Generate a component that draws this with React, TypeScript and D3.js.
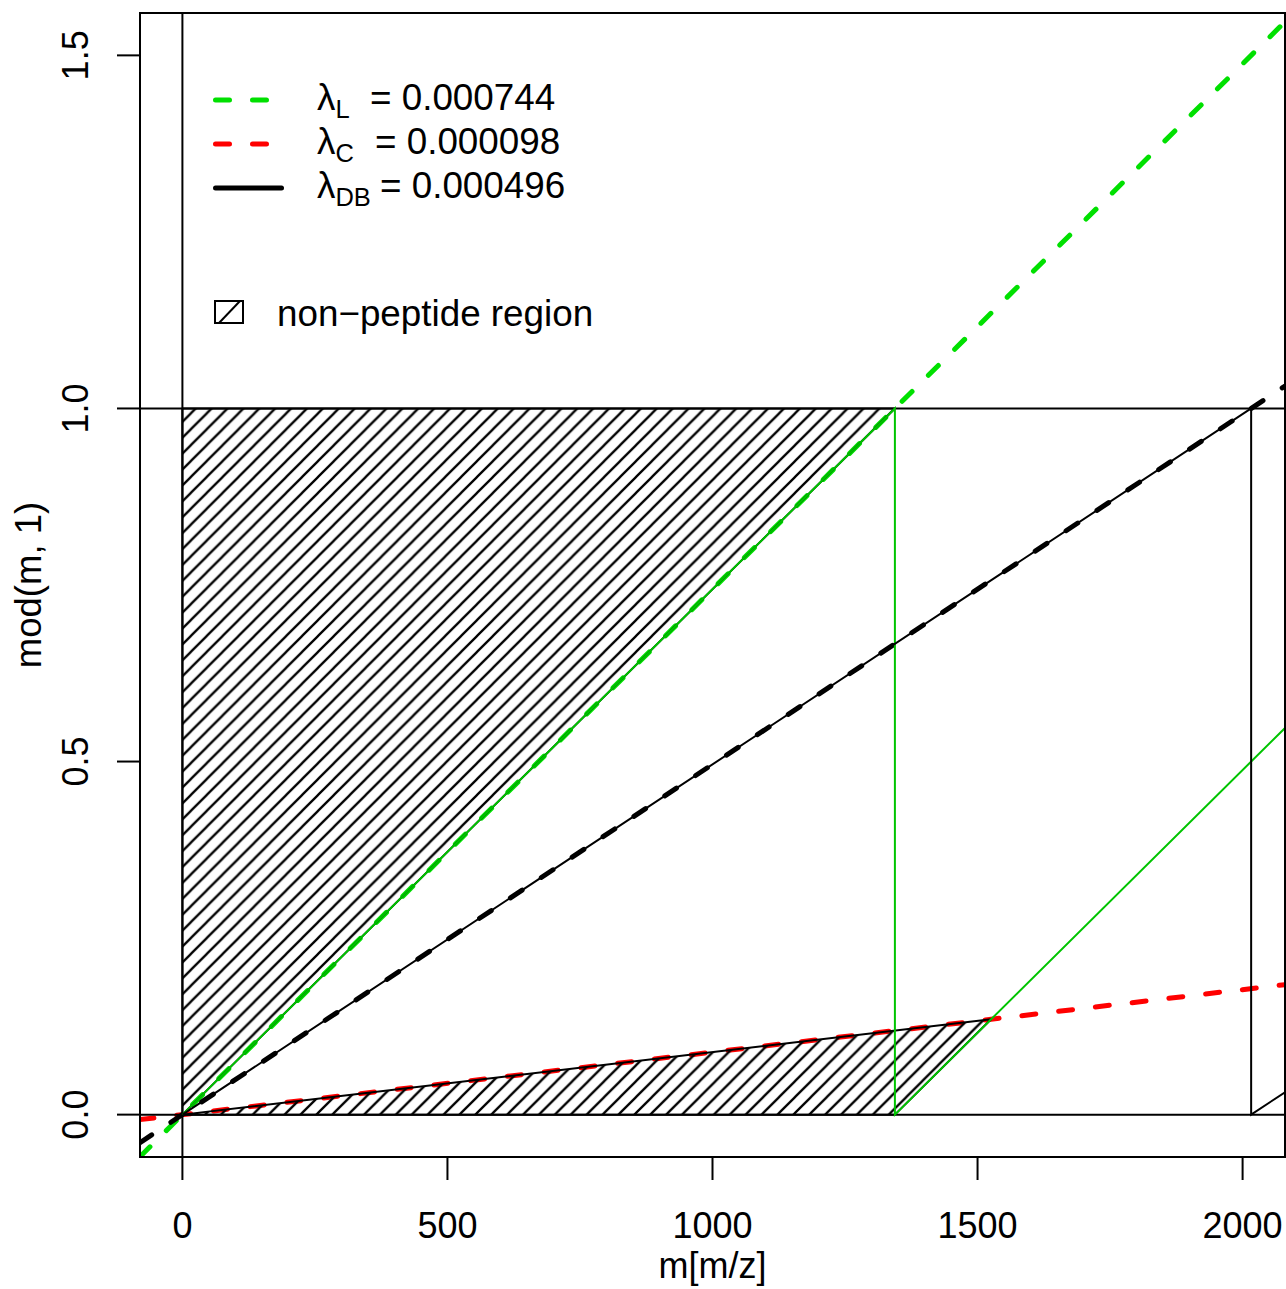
import React, { useEffect, useRef } from 'react';
import * as d3 from 'd3';

// axes
const xDomain = [-80, 2080];
const yDomain = [-0.06, 1.56];
const xTicks = [0, 500, 1000, 1500, 2000];
const yTicks = [0, 0.5, 1.0, 1.5];
const yTickLabels = ['0.0', '0.5', '1.0', '1.5'];

// the three lambda lines (slopes as they are drawn in the plot)
const seriesNames = ['L', 'C', 'DB'];
const seriesLabels = ['= 0.000744', '= 0.000098', '= 0.000496'];
const seriesSlopes = [0.000744, 0.0000885, 0.000496];
const seriesColors = ['#00e000', '#ff0000', '#000000'];
const legendDashed = [true, true, false];

// thin solid mod(m,1) lines: green (L) and black (DB)
const wrappedIdx = [0, 2];
const wrappedColors = ['#00c400', '#000000'];

const W = 1286;
const H = 1289;
const FONT = '"Liberation Sans", Arial, Helvetica, sans-serif';

const App = () => {
  const svgRef = useRef(null);

  useEffect(() => {
    document.body.style.margin = '0';
    const margin = { top: 13, right: 1, bottom: 132, left: 140 };

    const svg = d3.select(svgRef.current)
      .attr('width', W)
      .attr('height', H)
      .style('display', 'block')
      .style('font-family', FONT);
    svg.selectAll('*').remove();

    const x = d3.scaleLinear().domain(xDomain).range([margin.left, W - margin.right]);
    const y = d3.scaleLinear().domain(yDomain).range([H - margin.bottom, margin.top]);
    const [x0, x1] = x.range();
    const [yb, yt] = y.range();

    const defs = svg.append('defs');
    defs.append('clipPath').attr('id', 'plotClip')
      .append('rect')
      .attr('x', x0).attr('y', yt)
      .attr('width', x1 - x0).attr('height', yb - yt);

    // hatch pattern, 45 degree lines
    const hs = 15.9;
    defs.append('pattern')
      .attr('id', 'hatch')
      .attr('patternUnits', 'userSpaceOnUse')
      .attr('width', hs).attr('height', hs)
      .append('path')
      .attr('d', `M0,${hs} L${hs},0 M-3,3 L3,-3 M${hs - 3},${hs + 3} L${hs + 3},${hs - 3}`)
      .attr('stroke', '#000')
      .attr('stroke-width', 2.3);

    const plot = svg.append('g').attr('clip-path', 'url(#plotClip)');
    const line = d3.line().x(d => x(d[0])).y(d => y(d[1]));

    // thick dashed lambda lines
    seriesSlopes.forEach((s, i) => {
      plot.append('path')
        .attr('d', line([[xDomain[0], s * xDomain[0]], [xDomain[1], s * xDomain[1]]]))
        .attr('fill', 'none')
        .attr('stroke', seriesColors[i])
        .attr('stroke-width', 5)
        .attr('stroke-dasharray', '14 23')
        .attr('stroke-linecap', 'round');
    });

    // reference lines
    plot.append('path').attr('d', line([[xDomain[0], 0], [xDomain[1], 0]]))
      .attr('stroke', '#000').attr('stroke-width', 2);
    plot.append('path').attr('d', line([[xDomain[0], 1], [xDomain[1], 1]]))
      .attr('stroke', '#000').attr('stroke-width', 2);
    plot.append('path').attr('d', line([[0, yDomain[0]], [0, yDomain[1]]]))
      .attr('stroke', '#000').attr('stroke-width', 2);

    // non-peptide regions
    const sL = seriesSlopes[0];
    const sC = seriesSlopes[1];
    const xi = 1 / (sL - sC);
    const upper = [[0, 0], [0, 1], [1 / sL, 1]];
    const lower = [[0, 0], [xi, sC * xi], [1 / sL, 0]];
    [upper, lower].forEach(poly => {
      plot.append('path')
        .attr('d', line(poly) + 'Z')
        .attr('fill', 'url(#hatch)')
        .attr('stroke', '#000')
        .attr('stroke-width', 2)
        .attr('stroke-linejoin', 'round');
    });

    // thin wrapped lines
    const wrap = (s) => {
      const pts = [[0, 0]];
      let k = 1;
      while (k / s < xDomain[1]) {
        pts.push([k / s, 1]);
        pts.push([k / s, 0]);
        k++;
      }
      pts.push([xDomain[1], s * xDomain[1] - (k - 1)]);
      return pts;
    };
    wrappedIdx.forEach((si, i) => {
      plot.append('path')
        .attr('d', line(wrap(seriesSlopes[si])))
        .attr('fill', 'none')
        .attr('stroke', wrappedColors[i])
        .attr('stroke-width', 2);
    });

    // box
    svg.append('rect')
      .attr('x', x0).attr('y', yt)
      .attr('width', x1 - x0).attr('height', yb - yt)
      .attr('fill', 'none').attr('stroke', '#000').attr('stroke-width', 2);

    // X axis
    const xAxis = svg.append('g');
    xTicks.forEach(t => {
      xAxis.append('line')
        .attr('x1', x(t)).attr('x2', x(t))
        .attr('y1', yb).attr('y2', yb + 23)
        .attr('stroke', '#000').attr('stroke-width', 2);
      xAxis.append('text')
        .attr('x', x(t)).attr('y', 1238)
        .attr('text-anchor', 'middle')
        .style('font-size', '36px')
        .text(t);
    });
    svg.append('text')
      .attr('x', (x0 + x1) / 2).attr('y', 1278)
      .attr('text-anchor', 'middle')
      .style('font-size', '36px')
      .text('m[m/z]');

    // Y axis
    const yAxis = svg.append('g');
    yTicks.forEach((t, i) => {
      yAxis.append('line')
        .attr('x1', x0).attr('x2', x0 - 23)
        .attr('y1', y(t)).attr('y2', y(t))
        .attr('stroke', '#000').attr('stroke-width', 2);
      yAxis.append('text')
        .attr('transform', `translate(88, ${y(t)}) rotate(-90)`)
        .attr('text-anchor', 'middle')
        .style('font-size', '36px')
        .text(yTickLabels[i]);
    });
    svg.append('text')
      .attr('transform', `translate(41, ${(yt + yb) / 2}) rotate(-90)`)
      .attr('text-anchor', 'middle')
      .style('font-size', '36.5px')
      .text('mod(m, 1)');

    // legend
    const legend = svg.append('g');
    const eqX = [370, 375, 380];
    seriesNames.forEach((name, i) => {
      const by = 110 + i * 44;
      legend.append('line')
        .attr('x1', 215.5).attr('x2', 281.5)
        .attr('y1', by - 10).attr('y2', by - 10)
        .attr('stroke', seriesColors[i])
        .attr('stroke-width', 5)
        .attr('stroke-linecap', 'round')
        .attr('stroke-dasharray', legendDashed[i] ? '14 23' : null);
      const txt = legend.append('text')
        .attr('x', 317).attr('y', by)
        .style('font-size', '36.8px');
      txt.append('tspan').text('λ');
      txt.append('tspan')
        .attr('dy', 8)
        .style('font-size', '25.5px')
        .text(name);
      legend.append('text')
        .attr('x', eqX[i]).attr('y', by)
        .style('font-size', '36.8px')
        .text(seriesLabels[i]);
    });
    legend.append('rect')
      .attr('x', 215).attr('y', 301)
      .attr('width', 28).attr('height', 22)
      .attr('fill', 'none').attr('stroke', '#000').attr('stroke-width', 2);
    legend.append('line')
      .attr('x1', 219).attr('y1', 323)
      .attr('x2', 240).attr('y2', 301)
      .attr('stroke', '#000').attr('stroke-width', 2);
    legend.append('text')
      .attr('x', 277).attr('y', 326)
      .style('font-size', '36.8px')
      .text('non\u2212peptide region');
  }, []);

  return (
    <svg ref={svgRef}></svg>
  );
};

export default App;
